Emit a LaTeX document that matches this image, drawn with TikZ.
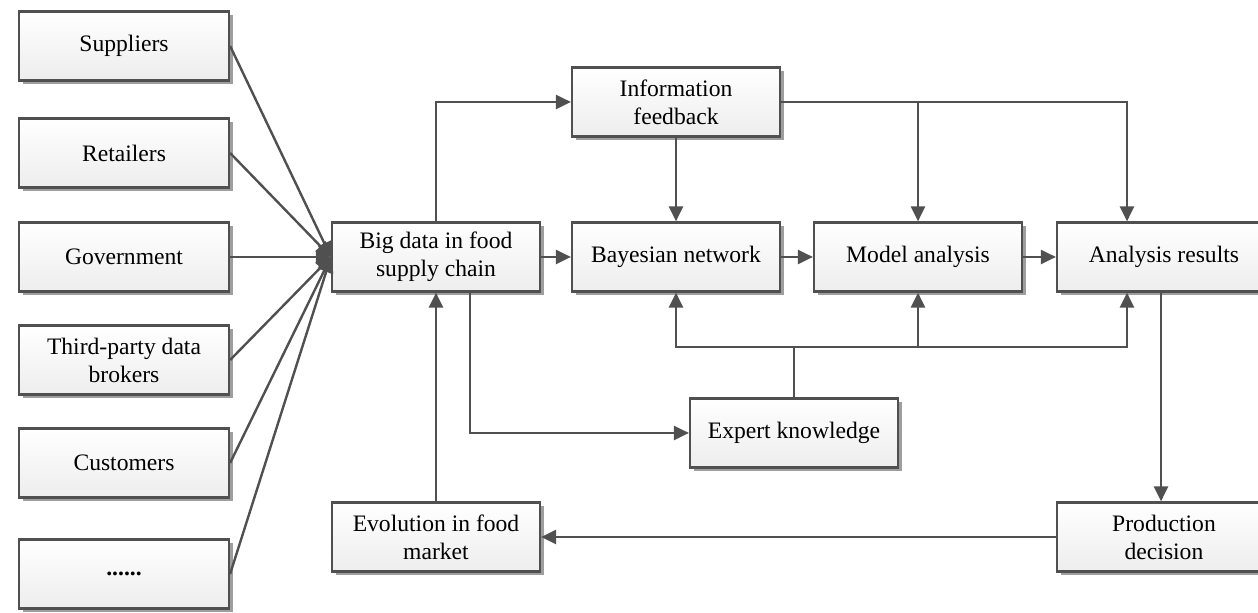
\documentclass[tikz,border=0pt]{standalone}
\usepackage{fontspec}
\setmainfont{Liberation Serif}
\usetikzlibrary{arrows.meta,shadows,calc}
\definecolor{linec}{HTML}{505050}
\begin{document}
\begin{tikzpicture}[x=0.5pt,y=-0.5pt,
  box/.style={draw=linec, line width=1.1pt, top color=white, bottom color=gray!14,
    minimum width=104pt, minimum height=34.5pt, align=center, inner sep=2pt,
    font=\fontsize{11.8}{14}\selectfont,
    drop shadow={shadow xshift=2pt, shadow yshift=-2pt, fill=black!38, opacity=1}},
  lbox/.style={box, minimum width=105pt},
  arr/.style={draw=linec, line width=1.2pt, -{Triangle[length=7.5pt,width=7pt]}},
  ln/.style={draw=linec, line width=1.2pt}]
\useasboundingbox (0,0) rectangle (1258,613);
\node[lbox] (sup) at (124,46) {Suppliers};
\node[lbox] (ret) at (124,153) {Retailers};
\node[lbox] (gov) at (124,257) {Government};
\node[lbox] (third) at (124,360) {Third-party data\\brokers};
\node[lbox] (cust) at (124,463) {Customers};
\node[lbox] (dots) at (124,574) {\textbf{......}};
\node[box] (big) at (436,257) {Big data in food\\supply chain};
\node[box] (info) at (676,102) {Information\\feedback};
\node[box] (bayes) at (676,257) {Bayesian network};
\node[box] (model) at (918,257) {Model analysis};
\node[box, minimum width=107pt] (res) at (1164,257) {Analysis results};
\node[box] (expert) at (794,433) {Expert knowledge};
\node[box] (evol) at (436,537) {Evolution in food\\market};
\node[box, minimum width=107pt] (prod) at (1164,537) {Production\\decision};
\coordinate (j) at (794,347);
\foreach \n in {sup,ret,gov,third,cust,dots} \draw[arr] (\n.east) -- (big.west);
\draw[arr] (big.north) |- (info.west);
\draw[arr] (info.south) -- (bayes.north);
\draw[arr] (info.east) -| ([xshift=-18.5pt]res.north);
\draw[arr] (info.east -| model.north) -- (model.north);
\draw[arr] (big.east) -- (bayes.west);
\draw[arr] (bayes.east) -- (model.west);
\draw[arr] (model.east) -- (res.west);
\draw[arr] ([xshift=17pt]big.south) |- (expert.west);
\draw[ln] (expert.north) -- (j);
\draw[arr] (j) -| (bayes.south);
\draw[arr] (j) -| ([xshift=-18.5pt]res.south);
\draw[arr] (j -| model.south) -- (model.south);
\draw[arr] ([xshift=-1.5pt]res.south) -- ([xshift=-1.5pt]prod.north);
\draw[arr] (prod.west) -- (evol.east);
\draw[arr] (evol.north) -- (big.south);
\end{tikzpicture}
\end{document}
